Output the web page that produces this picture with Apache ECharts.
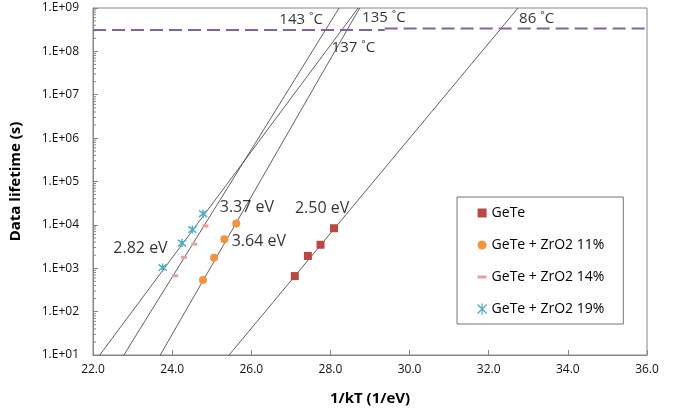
<!DOCTYPE html>
<html>
<head>
<meta charset="utf-8">
<script src="https://cdn.jsdelivr.net/npm/echarts@6/dist/echarts.min.js"></script>
<style>
html,body{margin:0;padding:0;background:#fff;}
#chart{width:683px;height:411px;}
</style>
</head>
<body>
<div id="chart"></div>
<script>
// ---- data ----
const seriesNames = ['GeTe', 'GeTe + ZrO2 11%', 'GeTe + ZrO2 14%', 'GeTe + ZrO2 19%'];

const geteX = [27.10, 27.43, 27.75, 28.09];
const geteY = [660, 1920, 3480, 8360];

const zr11X = [24.78, 25.06, 25.32, 25.62];
const zr11Y = [535, 1750, 4690, 10700];

const zr14X = [24.07, 24.30, 24.56, 24.84];
const zr14Y = [670, 1790, 3600, 9440];

const zr19X = [23.76, 24.25, 24.51, 24.78];
const zr19Y = [1040, 3800, 7800, 18100];

// Arrhenius fit lines: end points (x, lifetime)
const fitGeteX = [25.44, 32.74];
const fitGeteY = [10, 1e9];
const fit11X = [23.70, 28.74];
const fit11Y = [10, 1e9];
const fit14X = [22.78, 28.22];
const fit14Y = [10, 1e9];
const fit19X = [22.17, 28.70];
const fit19Y = [10, 1e9];

// 10-year criterion (dashed), drawn in two pieces as in the reference
const tenYearX1 = [22.0, 29.37];
const tenYearY1 = [3.1e8, 3.1e8];
const tenYearX2 = [29.37, 36.0];
const tenYearY2 = [3.35e8, 3.35e8];

// annotations
const noteText = ['143 ˚C', '135 ˚C', '137 ˚C', '86 ˚C', '3.37 eV', '3.64 eV', '2.82 eV', '2.50 eV'];
const noteX = [27.26, 29.35, 28.58, 33.21, 25.89, 26.19, 23.20, 27.79];
const noteY = [5.3e8, 6.0e8, 1.24e8, 5.7e8, 2.52e4, 4.2e3, 2.8e3, 2.43e4];
const noteSize = [15, 15, 15, 15, 16, 16, 16, 16];

// axes
const xMin = 22, xMax = 36, xStep = 2;
const yTickValues = [1e1, 1e2, 1e3, 1e4, 1e5, 1e6, 1e7, 1e8, 1e9];
const yTickLabels = ['1.E+01', '1.E+02', '1.E+03', '1.E+04', '1.E+05', '1.E+06', '1.E+07', '1.E+08', '1.E+09'];

// ---- helpers ----
const zip = (xs, ys) => xs.map((x, i) => [x, ys[i]]);
const FONT = '"Open Sans", "Liberation Sans", sans-serif';

const colors = {
  gete: '#B94743',
  z11: '#F39341',
  z14: '#E6A09D',
  z19: '#4BACC6',
  fit: '#3a3a3a',
  dash: '#8064A2',
  axis: '#868686'
};

const starPath = 'path://M1,1L9,9M9,1L1,9M5,0L5,10';
const dashPath = 'path://M0,0H9V3H0Z';
const squarePath = 'path://M0,0H10V10H0Z';

// minor ticks for log axis (2..9 within each decade)
const minorTicks = [];
for (let d = 0; d < yTickValues.length - 1; d++) {
  for (let m = 2; m <= 9; m++) minorTicks.push([xMin, yTickValues[d] * m]);
}

const labelIdx = v => {
  let best = 0, bd = Infinity;
  yTickValues.forEach((t, i) => { const dd = Math.abs(Math.log10(t) - Math.log10(v)); if (dd < bd) { bd = dd; best = i; } });
  return best;
};

function fitLine(name, xs, ys) {
  return {
    name: name, type: 'line', data: zip(xs, ys), showSymbol: false, silent: true,
    lineStyle: { color: colors.fit, width: 0.8 }, z: 2, animation: false
  };
}

const option = {
  animation: false,
  backgroundColor: '#fff',
  textStyle: { fontFamily: FONT },
  grid: { left: 88, right: 36, top: 8, bottom: 52, show: true, borderColor: colors.axis, borderWidth: 1 },
  xAxis: {
    type: 'value', min: xMin, max: xMax, interval: xStep,
    name: '1/kT (1/eV)', nameLocation: 'middle', nameGap: 36,
    nameTextStyle: { fontFamily: FONT, fontSize: 15, fontWeight: 'bold', color: '#000' },
    axisLine: { show: true, lineStyle: { color: colors.axis } },
    axisTick: { show: true, inside: true, length: 5, lineStyle: { color: colors.axis } },
    axisLabel: { fontFamily: FONT, fontSize: 12, color: '#111', margin: 9, formatter: v => v.toFixed(1) },
    splitLine: { show: false }
  },
  yAxis: {
    type: 'log', logBase: 10, min: 10, max: 1e9,
    name: 'Data lifetime (s)', nameLocation: 'middle', nameGap: 70,
    nameTextStyle: { fontFamily: FONT, fontSize: 15, fontWeight: 'bold', color: '#000' },
    axisLine: { show: true, lineStyle: { color: colors.axis } },
    axisTick: { show: true, inside: true, length: 5, lineStyle: { color: colors.axis } },
    axisLabel: { fontFamily: FONT, fontSize: 12, color: '#111', margin: 14, formatter: v => yTickLabels[labelIdx(v)] },
    splitLine: { show: false }
  },
  legend: {
    orient: 'vertical', left: 457, top: 197,
    padding: [9, 19, 8, 20], itemGap: 18, itemWidth: 9, itemHeight: 14,
    borderColor: '#777', borderWidth: 1, backgroundColor: '#fff',
    textStyle: { fontFamily: FONT, fontSize: 14, color: '#000' },
    data: [
      { name: seriesNames[0], icon: squarePath, itemStyle: { color: colors.gete } },
      { name: seriesNames[1], icon: 'circle', itemStyle: { color: colors.z11 } },
      { name: seriesNames[2], icon: dashPath, itemStyle: { color: colors.z14 } },
      { name: seriesNames[3], icon: starPath, itemStyle: { color: 'rgba(0,0,0,0)', borderColor: colors.z19, borderWidth: 1.2 } }
    ]
  },
  series: [
    {
      name: 'minorTicks', type: 'custom', silent: true, clip: false, z: 1,
      data: minorTicks,
      renderItem: (params, api) => {
        const p = api.coord([api.value(0), api.value(1)]);
        return { type: 'line', shape: { x1: p[0], y1: p[1], x2: p[0] + 3, y2: p[1] }, style: { stroke: colors.axis, lineWidth: 1 } };
      }
    },
    fitLine('fit19', fit19X, fit19Y),
    fitLine('fit14', fit14X, fit14Y),
    fitLine('fit11', fit11X, fit11Y),
    fitLine('fitGeTe', fitGeteX, fitGeteY),
    {
      name: 'tenYear1', type: 'line', data: zip(tenYearX1, tenYearY1), showSymbol: false, silent: true,
      lineStyle: { color: colors.dash, width: 2, type: [13, 6] }, z: 3
    },
    {
      name: 'tenYear2', type: 'line', data: zip(tenYearX2, tenYearY2), showSymbol: false, silent: true,
      lineStyle: { color: colors.dash, width: 2, type: [13, 6] }, z: 3
    },
    {
      name: seriesNames[0], type: 'scatter', data: zip(geteX, geteY), symbol: 'rect', symbolSize: 8,
      itemStyle: { color: colors.gete, opacity: 1 }, z: 5
    },
    {
      name: seriesNames[1], type: 'scatter', data: zip(zr11X, zr11Y), symbol: 'circle', symbolSize: 8,
      itemStyle: { color: colors.z11, opacity: 1 }, z: 5
    },
    {
      name: seriesNames[2], type: 'scatter', data: zip(zr14X, zr14Y), symbol: 'rect', symbolSize: [6, 3],
      itemStyle: { color: colors.z14, opacity: 1 }, z: 5
    },
    {
      name: seriesNames[3], type: 'scatter', data: zip(zr19X, zr19Y), symbol: starPath, symbolSize: 8,
      itemStyle: { color: 'rgba(0,0,0,0)', borderColor: colors.z19, borderWidth: 1.5, opacity: 1 }, z: 5
    },
    {
      name: 'notes', type: 'scatter', silent: true, symbolSize: 1, z: 6,
      itemStyle: { color: 'rgba(0,0,0,0)' },
      data: noteText.map((t, i) => ({
        name: t, value: [noteX[i], noteY[i]],
        label: { fontSize: noteSize[i] }
      })),
      label: { show: true, position: 'inside', formatter: '{b}', color: '#000', fontFamily: FONT }
    }
  ]
};

const chart = echarts.init(document.getElementById('chart'), null, { renderer: 'canvas' });
chart.setOption(option);
</script>
</body>
</html>
